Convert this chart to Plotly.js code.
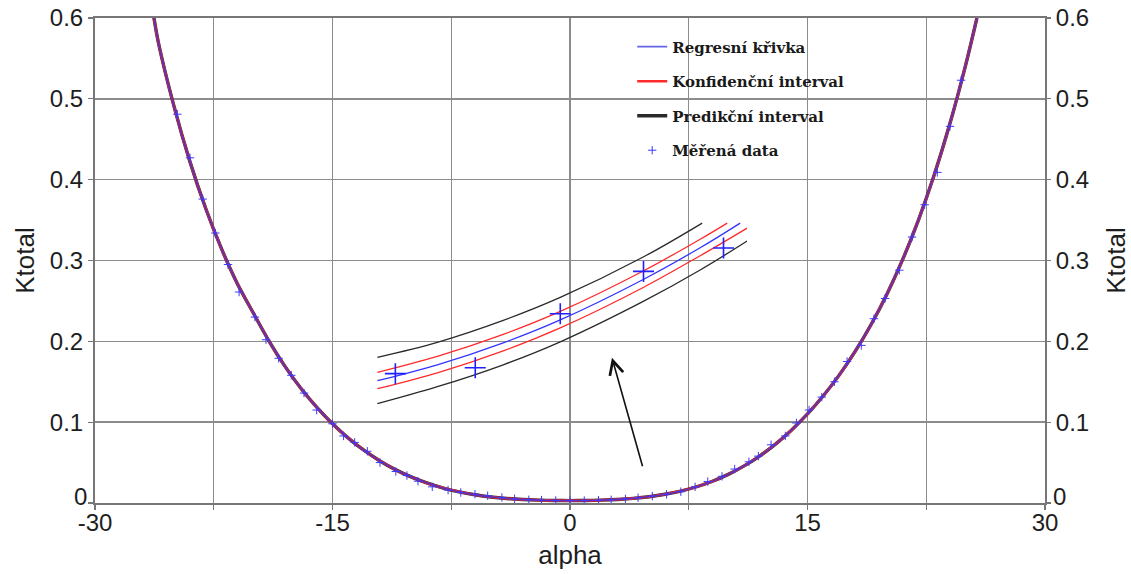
<!DOCTYPE html>
<html>
<head>
<meta charset="utf-8">
<script src="https://cdn.plot.ly/plotly-3.0.1.min.js"></script>
<style>html,body{margin:0;padding:0;background:#fff;}#chart{width:1131px;height:574px;}</style>
</head>
<body>
<div id="chart"></div>
<script>
// ---- Main chart data ----
var curveAlpha = [-26.3,-26,-25,-24,-23,-22,-21,-20,-19,-18,-17,-16,-15,-14,-13,-12,-11,-10,-9,-8,-7,-6,-5,-4,-3,-2,-1,0,1,2,3,4,5,6,7,8,9,10,11,12,13,14,15,16,17,18,19,20,21,22,23,24,25,25.7];
var curveK = [0.603,0.570,0.490,0.422,0.364,0.314,0.271,0.235,0.200,0.169,0.142,0.1186,0.0981,0.0803,0.065,0.052,0.041,0.032,0.0245,0.0185,0.0138,0.0102,0.0075,0.0056,0.0043,0.0035,0.0031,0.0030,0.0031,0.0035,0.0043,0.0057,0.0078,0.0108,0.0148,0.0201,0.0269,0.0354,0.0459,0.0584,0.0732,0.0904,0.1102,0.1327,0.1582,0.1872,0.2202,0.2577,0.3007,0.3497,0.4057,0.4697,0.5427,0.600];

var measAlpha = [-24.8,-24.0,-23.2,-22.4,-21.6,-20.9,-19.9,-19.2,-18.4,-17.6,-16.8,-16.0,-15.0,-14.3,-13.6,-12.8,-12.0,-11.0,-10.3,-9.6,-8.7,-7.7,-6.9,-6.0,-5.2,-4.3,-3.5,-2.6,-1.8,-0.9,0.0,0.9,1.8,2.6,3.5,4.3,5.2,6.1,7.0,7.9,8.7,9.6,10.4,11.3,11.9,12.7,13.6,14.3,15.1,15.9,16.7,17.5,18.4,19.2,19.9,20.8,21.6,22.4,23.2,24.0,24.7];
var measK = [0.481,0.427,0.376,0.334,0.295,0.261,0.230,0.202,0.179,0.158,0.136,0.115,0.098,0.083,0.075,0.064,0.050,0.039,0.034,0.027,0.020,0.016,0.013,0.011,0.009,0.0068,0.0052,0.004,0.0036,0.003,0.0028,0.003,0.0034,0.004,0.005,0.0065,0.0085,0.0108,0.014,0.020,0.0265,0.033,0.042,0.051,0.058,0.072,0.083,0.099,0.115,0.131,0.150,0.175,0.195,0.228,0.253,0.288,0.329,0.369,0.409,0.466,0.523];

// ---- Inset (magnified detail) data ----
var insetBlueX = [1.011,1.658,2.369,2.984,3.879,4.493,4.925];
var insetBlueY = [0.004656,0.005093,0.005694,0.006322,0.007429,0.008297,0.008972];
var insetRedUpX = [1.011,1.658,2.369,2.984,3.879,4.493,4.785];
var insetRedUpY = [0.004888,0.005325,0.005926,0.006554,0.007661,0.008530,0.008972];
var insetRedLoX = [1.011,1.658,2.369,2.984,3.879,4.493,5.0];
var insetRedLoY = [0.004437,0.004874,0.005475,0.006104,0.007210,0.008079,0.008836];
var insetBlkUpX = [1.011,1.658,2.369,2.984,3.879,4.515];
var insetBlkUpY = [0.005298,0.005708,0.006309,0.006937,0.008043,0.008972];
var insetBlkLoX = [1.011,1.658,2.369,2.984,3.879,4.493,5.0];
var insetBlkLoY = [0.004027,0.004492,0.005093,0.005721,0.006828,0.007688,0.008481];
var insetMeasX = [1.205,2.067,2.984,3.882,4.745];
var insetMeasY = [0.00485,0.00501,0.00649,0.00765,0.00829];

var legendNames = ['Regresní křivka','Konfidenční interval','Predikční interval','Měřená data'];
var xTicks = [-30,-15,0,15,30];
var yTicks = [0,0.1,0.2,0.3,0.4,0.5,0.6];
// the "0" label of both y axes sits slightly above the corner (drawn as annotation)
var yTickText = yTicks.map(function(v){ return v === 0 ? '' : String(v); });

// ---- layout helpers ----
var W = 1131, H = 574;
var L = 94.5, R = 1045, T = 17.5, B = 503.5;
function px(x){ return (x - L) / (R - L); }
function py(y){ return (B - y) / (B - T); }

var BLUE = '#3434ff', RED = '#ff2a2a', BLACK = '#2a2a2a';

var traces = [
  {x: curveAlpha, y: curveK, mode:'lines', line:{color:BLACK, width:3.4, shape:'spline', smoothing:0.8}, name: legendNames[2], legendgroup:'g3', legendrank:3},
  {x: curveAlpha, y: curveK, mode:'lines', line:{color:RED, width:2.6, shape:'spline', smoothing:0.8}, name: legendNames[1], legendgroup:'g2', legendrank:2},
  {x: curveAlpha, y: curveK, mode:'lines', line:{color:'#3030e0', width:1.8, shape:'spline', smoothing:0.8}, name: legendNames[0], legendgroup:'g1', legendrank:1, opacity:0.75},
  {x: measAlpha, y: measK, yaxis:'y3', mode:'markers', marker:{symbol:'cross-thin', size:6, line:{color:'#3a3aff', width:1}}, name: legendNames[3], legendgroup:'g4', legendrank:4},
  // inset
  {x: insetBlkUpX, y: insetBlkUpY, xaxis:'x2', yaxis:'y2', mode:'lines', line:{color:BLACK, width:1.3, shape:'spline'}, showlegend:false, legendgroup:'g3'},
  {x: insetBlkLoX, y: insetBlkLoY, xaxis:'x2', yaxis:'y2', mode:'lines', line:{color:BLACK, width:1.3, shape:'spline'}, showlegend:false, legendgroup:'g3'},
  {x: insetRedUpX, y: insetRedUpY, xaxis:'x2', yaxis:'y2', mode:'lines', line:{color:RED, width:1.3, shape:'spline'}, showlegend:false, legendgroup:'g2'},
  {x: insetRedLoX, y: insetRedLoY, xaxis:'x2', yaxis:'y2', mode:'lines', line:{color:RED, width:1.3, shape:'spline'}, showlegend:false, legendgroup:'g2'},
  {x: insetBlueX, y: insetBlueY, xaxis:'x2', yaxis:'y2', mode:'lines', line:{color:BLUE, width:1.3, shape:'spline'}, showlegend:false, legendgroup:'g1'},
  {x: insetMeasX, y: insetMeasY, xaxis:'x2', yaxis:'y2', mode:'markers', marker:{symbol:'cross-thin', size:15, line:{color:'#1f1fff', width:1.6}}, showlegend:false, legendgroup:'g4'}
];

var gridC = '#8c8c8c', axC = '#777777';
var tickFont = {family:'Liberation Sans, Arial, sans-serif', size:24, color:'#1e1e1e'};
var titleFont = {family:'Liberation Sans, Arial, sans-serif', size:26, color:'#1e1e1e'};

var layout = {
  width: W, height: H,
  margin: {l: L, r: W - R, t: T, b: H - B, pad: 0},
  paper_bgcolor: '#ffffff',
  plot_bgcolor: 'rgba(0,0,0,0)',
  showlegend: true,
  legend: {
    x: px(632), y: py(30), xanchor:'left', yanchor:'top',
    bgcolor:'rgba(0,0,0,0)', borderwidth:0,
    traceorder:'grouped', tracegroupgap: 12,
    font:{family:'DejaVu Serif, Liberation Serif, serif', size:15, weight:'bold', color:'#1a1a1a'}
  },
  xaxis: {
    range:[-30,30], tickvals: xTicks, ticktext: xTicks.map(String),
    showgrid:true, gridcolor:gridC, gridwidth:1.4,
    minor:{dtick:7.5, tick0:0, showgrid:true, gridcolor:gridC, gridwidth:1.4, ticks:'outside', ticklen:5, tickcolor:axC},
    ticks:'outside', ticklen:5, tickcolor:axC, tickwidth:1.3,
    ticklabelstandoff:-8,
    showline:true, linecolor:axC, linewidth:2, mirror:true, zeroline:false,
    tickfont: tickFont,
    title:{text:'alpha', font:titleFont, standoff:11},
    automargin:false
  },
  yaxis: {
    range:[0,0.6], tickvals: yTicks, ticktext: yTickText,
    showgrid:true, gridcolor:gridC, gridwidth:1.4,
    ticks:'outside', ticklen:5, tickcolor:axC, tickwidth:1.3,
    showline:true, linecolor:axC, linewidth:2, mirror:true, zeroline:false,
    tickfont: tickFont,
    title:{text:'Ktotal', font:titleFont, standoff:8},
    automargin:false
  },
  yaxis3: {
    overlaying:'y', side:'right', anchor:'x',
    range:[0,0.6], tickvals: yTicks, ticktext: yTickText,
    showgrid:false, ticks:'outside', ticklen:5, tickcolor:axC, tickwidth:1.3,
    showline:false, zeroline:false,
    tickfont: tickFont,
    title:{text:'Ktotal', font:titleFont, standoff:20},
    automargin:false
  },
  xaxis2: {domain:[px(376), px(747)], range:[1,5], anchor:'y2', visible:false, fixedrange:true},
  yaxis2: {domain:[py(405), py(222)], range:[0.004,0.009], anchor:'x2', visible:false, fixedrange:true},
  shapes: [
    // white background behind legend
    {type:'rect', xref:'paper', yref:'paper', x0:px(605), x1:px(860), y0:py(183), y1:py(25), fillcolor:'#ffffff', line:{width:0}, layer:'between'},
    // white background behind magnified detail
    {type:'path', xref:'paper', yref:'paper', layer:'between', fillcolor:'#ffffff', line:{width:0},
     path: 'M'+px(376)+','+py(283)+' L'+px(574)+','+py(270)+' L'+px(577)+','+py(214)+' L'+px(750)+','+py(214)+' L'+px(750)+','+py(330)+' L'+px(607)+','+py(336)+' L'+px(605)+','+py(381)+' L'+px(376)+','+py(381)+' Z'}
  ],
  annotations: [
    {x: 2.65, y: 0.1796, xref:'x', yref:'y', text:'', showarrow:true, arrowhead:5, arrowsize:1.7, arrowwidth:1.6, arrowcolor:'#111111', ax:31, ay:110},
    {x: 0, y: yTicks[0], xref:'paper', yref:'y', text: String(yTicks[0]), showarrow:false, xanchor:'right', yanchor:'middle', xshift:-6, yshift:7, font: tickFont},
    {x: 1, y: yTicks[0], xref:'paper', yref:'y', text: String(yTicks[0]), showarrow:false, xanchor:'left', yanchor:'middle', xshift:6, yshift:7, font: tickFont}
  ]
};

Plotly.newPlot('chart', traces, layout, {displayModeBar:false, staticPlot:true});
</script>
</body>
</html>
